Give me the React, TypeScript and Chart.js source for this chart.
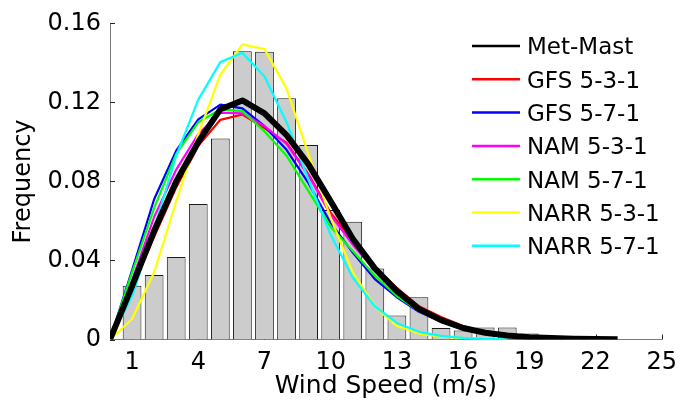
import { useEffect, useRef } from 'react';
import { Chart, registerables } from 'chart.js';

Chart.register(...registerables);

const FONT = "'DejaVu Sans', sans-serif";

// Histogram of measured wind speed (bins centred on whole m/s)
const histBins = [1, 2, 3, 4, 5, 6, 7, 8, 9, 10, 11, 12, 13, 14, 15, 16, 17, 18, 19, 20, 21, 22, 23];
const histFreq = [
  0.0272, 0.0327, 0.0417, 0.0686, 0.1017, 0.1459, 0.1457, 0.1221, 0.0984, 0.0656, 0.0596, 0.0359,
  0.0122, 0.0214, 0.0058, 0.0045, 0.0061, 0.0061, 0.0031, 0.0012, 0.0008, 0.0005, 0.0003,
];

// Fitted distributions, sampled at whole m/s
const windSpeed = [0, 1, 2, 3, 4, 5, 6, 7, 8, 9, 10, 11, 12, 13, 14, 15, 16, 17, 18, 19, 20, 21, 22, 23];
const metMast = [
  0, 0.027, 0.055, 0.08, 0.1, 0.1165, 0.121, 0.1145, 0.1035, 0.0885, 0.07, 0.051, 0.036, 0.0245,
  0.0155, 0.0098, 0.0058, 0.0034, 0.002, 0.0012, 0.0007, 0.0004, 0.0002, 0.0001,
];
const gfs531 = [
  0, 0.026, 0.052, 0.077, 0.098, 0.1112, 0.1139, 0.107, 0.0995, 0.0835, 0.064, 0.05, 0.0364, 0.0261,
  0.0168, 0.0114, 0.0068, 0.0038, 0.0023,
];
const gfs571 = [
  0, 0.035, 0.071, 0.0956, 0.1114, 0.1189, 0.117, 0.108, 0.096, 0.079, 0.059, 0.044, 0.0306, 0.0214,
  0.014, 0.009, 0.0055, 0.003, 0.0015,
];
const nam531 = [
  0, 0.03, 0.062, 0.086, 0.104, 0.1148, 0.1145, 0.108, 0.099, 0.083, 0.063, 0.048, 0.035, 0.024,
  0.015, 0.0095, 0.0055, 0.003, 0.0015,
];
const nam571 = [
  0, 0.034, 0.0665, 0.094, 0.11, 0.1165, 0.1156, 0.1053, 0.093, 0.075, 0.057, 0.0448, 0.0323, 0.022,
  0.0145, 0.009, 0.0055, 0.003, 0.0015,
];
const narr531 = [
  0, 0.0104, 0.034, 0.07, 0.104, 0.134, 0.1494, 0.147, 0.127, 0.0935, 0.0615, 0.034, 0.0168, 0.0068,
  0.003, 0.0015, 0.0007, 0.0003, 0.0001,
];
const narr571 = [
  0, 0.022, 0.056, 0.093, 0.1214, 0.1404, 0.1451, 0.1331, 0.11, 0.0806, 0.053, 0.0314, 0.0168, 0.0084,
  0.0039, 0.0018, 0.0008, 0.0003, 0.0001,
];

const xTickValues = [1, 4, 7, 10, 13, 16, 19, 22, 25];
const yTickValues = [0, 0.04, 0.08, 0.12, 0.16];
const yTickLabels = ['0', '0.04', '0.08', '0.12', '0.16'];

const toPoints = (vals: number[]) => vals.map((y, i) => ({ x: windSpeed[i], y }));

// Short inward tick marks, drawn beneath the bars and curves
const tickMarks = {
  id: 'tickMarks',
  beforeDatasetsDraw(chart: any) {
    const { ctx, chartArea, scales } = chart;
    ctx.save();
    ctx.strokeStyle = '#262626';
    ctx.lineWidth = 1;
    ctx.beginPath();
    for (const t of scales.x.ticks) {
      const px = Math.round(scales.x.getPixelForValue(t.value)) + 0.5;
      ctx.moveTo(px, chartArea.bottom);
      ctx.lineTo(px, chartArea.bottom - 5);
    }
    for (const t of scales.y.ticks) {
      const py = Math.round(scales.y.getPixelForValue(t.value)) + 0.5;
      ctx.moveTo(chartArea.left, py);
      ctx.lineTo(chartArea.left + 5, py);
    }
    ctx.stroke();
    ctx.restore();
  },
};

// Legend listing the curves, top right of the plot
const curveLegend = {
  id: 'curveLegend',
  afterDraw(chart: any) {
    const { ctx } = chart;
    const lines = chart.data.datasets.filter((d: any) => d.type === 'line');
    const x0 = 472;
    const x1 = 520;
    const textX = 527;
    const rowY0 = 46;
    const rowStep = 33.3;
    const size = 23;
    ctx.save();
    ctx.font = `${size}px ${FONT}`;
    ctx.textAlign = 'left';
    ctx.textBaseline = 'alphabetic';
    lines.forEach((d: any, i: number) => {
      const y = rowY0 + i * rowStep;
      ctx.strokeStyle = d.borderColor;
      ctx.lineWidth = 2.5;
      ctx.beginPath();
      ctx.moveTo(x0, y);
      ctx.lineTo(x1, y);
      ctx.stroke();
      ctx.fillStyle = '#000';
      ctx.fillText(d.label, textX, y + size * 0.729 / 2);
    });
    ctx.restore();
  },
};

export default function App() {
  const ref = useRef<HTMLCanvasElement>(null);

  useEffect(() => {
    const canvas = ref.current;
    if (!canvas) return;

    const curve = (label: string, vals: number[], color: string, width: number, order: number) => ({
      type: 'line' as const,
      label,
      data: toPoints(vals),
      borderColor: color,
      backgroundColor: color,
      borderWidth: width,
      pointRadius: 0,
      tension: 0,
      fill: false,
      borderJoinStyle: 'round' as const,
      order,
    });

    const chart = new Chart(canvas, {
      type: 'bar',
      data: {
        datasets: [
          curve('Met-Mast', metMast, '#000000', 6, 0),
          curve('GFS 5-3-1', gfs531, '#ff0000', 2.2, 6),
          curve('GFS 5-7-1', gfs571, '#0000ff', 2.2, 5),
          curve('NAM 5-3-1', nam531, '#ff00ff', 2.2, 4),
          curve('NAM 5-7-1', nam571, '#00ff00', 2.2, 3),
          curve('NARR 5-3-1', narr531, '#ffff00', 2.2, 2),
          curve('NARR 5-7-1', narr571, '#00ffff', 2.2, 1),
          {
            type: 'bar' as const,
            label: 'Measured',
            data: histBins.map((x, i) => ({ x, y: histFreq[i] })),
            backgroundColor: '#cccccc',
            borderColor: '#1a1a1a',
            borderWidth: 1,
            barPercentage: 0.85,
            categoryPercentage: 1,
            order: 100,
          },
        ] as any,
      },
      options: {
        animation: false,
        responsive: false,
        devicePixelRatio: 1,
        layout: { padding: { left: 0, right: 16, top: 20, bottom: 0 } },
        plugins: {
          legend: { display: false },
          tooltip: { enabled: false },
        },
        scales: {
          x: {
            type: 'linear',
            min: 0,
            max: 25,
            offset: false,
            afterBuildTicks: (s: any) => {
              s.ticks = xTickValues.map((value) => ({ value }));
            },
            afterFit: (s: any) => {
              s.height = 65.5;
            },
            grid: { display: false, drawTicks: false, offset: false },
            border: { display: true, color: '#7a7a7a', width: 1 },
            ticks: {
              color: '#000',
              font: { family: FONT, size: 24 },
              padding: 9,
              maxRotation: 0,
              autoSkip: false,
              callback: (v: any) => String(v),
            },
            title: {
              display: true,
              text: 'Wind Speed (m/s)',
              color: '#000',
              font: { family: FONT, size: 25 },
              padding: { top: 0, bottom: 4 },
            },
          },
          y: {
            type: 'linear',
            min: 0,
            max: 0.16,
            afterBuildTicks: (s: any) => {
              s.ticks = yTickValues.map((value) => ({ value }));
            },
            afterFit: (s: any) => {
              s.width = 110;
            },
            grid: { display: false, drawTicks: false },
            border: { display: true, color: '#7a7a7a', width: 1 },
            ticks: {
              color: '#000',
              font: { family: FONT, size: 24 },
              padding: 9,
              callback: (_v: any, i: number) => yTickLabels[i],
            },
            title: {
              display: true,
              text: 'Frequency',
              color: '#000',
              font: { family: FONT, size: 24 },
              padding: { top: 9.6, bottom: 0 },
            },
          },
        },
      } as any,
      plugins: [tickMarks, curveLegend],
    });

    return () => chart.destroy();
  }, []);

  return (
    <div style={{ position: 'fixed', left: 0, top: 0, width: 686, height: 405, background: '#fff' }}>
      <canvas ref={ref} width={686} height={405} style={{ display: 'block', width: 686, height: 405 }} />
    </div>
  );
}
